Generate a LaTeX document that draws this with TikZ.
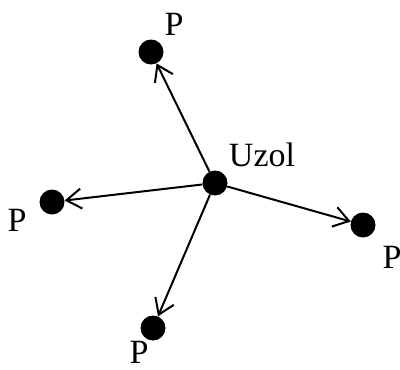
\documentclass[tikz,border=0pt]{standalone}
\usepackage{fontspec}
\setmainfont{Liberation Serif}
\usetikzlibrary{arrows.meta,positioning}
\tikzset{
  dot/.style={circle, fill=black, minimum size=25pt, inner sep=0pt},
  lbl/.style={font=\fontsize{34}{36}\selectfont, inner sep=0pt},
  arrow/.style={-{Straight Barb[length=15pt,width=20pt]}, line width=2pt}
}
\begin{document}
\begin{tikzpicture}[x=1pt,y=-1pt]
\useasboundingbox (0,0) rectangle (400,370);
% uzol a okolne body
\node[dot] (u) at (215,183) {};
\node[dot] (pt) at (151,52) {};
\node[dot] (pl) at (52,202) {};
\node[dot] (pr) at (363,225) {};
\node[dot] (pb) at (153,328) {};

\node[lbl] (lu) at (262,155) {Uzol};
\node[lbl] (lt) at (174,24) {P};
\node[lbl] (ll) at (17,220) {P};
\node[lbl] (lr) at (392,257) {P};
\node[lbl] (lb) at (139,352) {P};

\draw[arrow] (u) -- (pt);
\draw[arrow] (u) -- (pl);
\draw[arrow] (u) -- (pr);
\draw[arrow] (u) -- (pb);
\end{tikzpicture}
\end{document}
